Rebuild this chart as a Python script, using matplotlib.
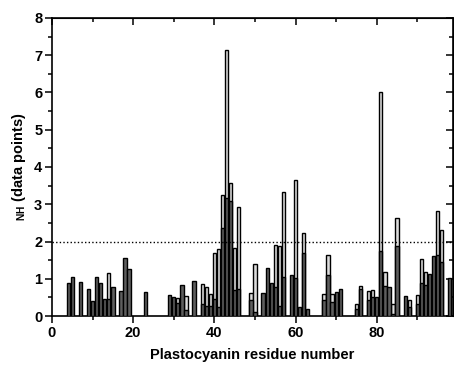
import matplotlib
matplotlib.use("Agg")
import matplotlib.pyplot as plt
from matplotlib.ticker import MultipleLocator

plt.rcParams["font.family"] = ["Liberation Sans", "DejaVu Sans"]
plt.rcParams["mathtext.fontset"] = "custom"
plt.rcParams["mathtext.bf"] = "Liberation Sans:bold"
plt.rcParams["mathtext.rm"] = "Liberation Sans"

# residue numbers and the two overlapping series (back = light, front = dark)
residues = [4, 5, 7, 9, 10, 11, 12, 13, 14, 15, 17, 18, 19, 23, 29, 30, 31, 32, 33, 35,
            37, 38, 39, 40, 41, 42, 43, 44, 45, 46, 49, 50, 52, 53, 54, 55, 56, 57, 59, 60,
            61, 62, 63, 67, 68, 69, 70, 71, 75, 76, 78, 79, 80, 81, 82, 83, 84, 85, 87, 88,
            90, 91, 92, 93, 94, 95, 96, 98]
light = [0, 0, 0, 0, 0, 0, 0, 0, 1.15, 0, 0, 0, 0, 0, 0, 0, 0.48, 0, 0.55, 0,
         0.85, 0.77, 0.58, 1.70, 1.81, 3.24, 7.13, 3.56, 1.84, 2.93, 0.63, 1.39, 0, 0, 0, 1.90, 1.88, 3.33, 0, 3.65,
         0, 2.24, 0, 0.58, 1.65, 0.58, 0, 0, 0.33, 0.81, 0.67, 0.70, 0, 6.02, 1.17, 0, 0.32, 2.64, 0, 0.43,
         0.57, 1.54, 1.19, 0, 0, 2.82, 2.31, 0]
dark = [0.88, 1.04, 0.91, 0.72, 0.41, 1.04, 0.90, 0.46, 0.46, 0.79, 0.67, 1.55, 1.25, 0.65, 0.56, 0.52, 0.34, 0.83, 0.17, 0.94,
        0.33, 0.26, 0.26, 0.45, 0.25, 2.35, 3.16, 3.10, 0.71, 0.73, 0.43, 0.10, 0.61, 1.28, 0.88, 0.79, 0.28, 1.05, 1.10, 1.01,
        0.25, 1.68, 0.20, 0.43, 1.10, 0.38, 0.64, 0.72, 0.18, 0.72, 0.43, 0.52, 0.50, 1.74, 0.82, 0.79, 0.05, 1.88, 0.54, 0.25,
        0.32, 0.88, 0.83, 1.12, 1.62, 1.64, 1.44, 1.02]
threshold = 2.0

fig = plt.figure(figsize=(4.54, 3.65), dpi=100)
ax = fig.add_axes([0.1145, 0.134, 0.8835, 0.817])

ax.bar(residues, light, width=0.8, color="#dcdcdc", edgecolor="black", linewidth=1.0, zorder=2)
ax.bar(residues, dark, width=0.8, color="#5e5e5e", edgecolor="black", linewidth=1.0, zorder=3)
ax.axhline(threshold, color="black", linestyle=(0, (1, 1.6)), linewidth=1.0, zorder=4)

ax.set_xlim(0, 98.8)
ax.set_ylim(0, 8)
ax.xaxis.set_major_locator(MultipleLocator(20))
ax.xaxis.set_minor_locator(MultipleLocator(10))
ax.yaxis.set_major_locator(MultipleLocator(1))
ax.yaxis.set_minor_locator(MultipleLocator(0.5))
ax.tick_params(which="major", direction="out", length=5, width=1.1, labelsize=10.5, pad=2)
ax.tick_params(which="minor", direction="out", length=3, width=1.1)
for lab in ax.get_xticklabels() + ax.get_yticklabels():
    lab.set_fontweight("bold")
for sp in ax.spines.values():
    sp.set_linewidth(1.2)

# mirrored ticks on top and right, pointing inward
top = ax.secondary_xaxis("top")
top.xaxis.set_major_locator(MultipleLocator(20))
top.xaxis.set_minor_locator(MultipleLocator(10))
top.tick_params(which="major", direction="in", length=5, width=1.1, labeltop=False)
top.tick_params(which="minor", direction="in", length=3, width=1.1)
right = ax.secondary_yaxis("right")
right.yaxis.set_major_locator(MultipleLocator(1))
right.yaxis.set_minor_locator(MultipleLocator(0.5))
right.tick_params(which="major", direction="in", length=5, width=1.1, labelright=False)
right.tick_params(which="minor", direction="in", length=3, width=1.1)

ax.set_xlabel("Plastocyanin residue number", fontsize=10.5, fontweight="bold", labelpad=6)
ax.set_ylabel(r"$_{\mathbf{NH}}$ (data points)", fontsize=10.5, fontweight="bold", labelpad=4)

fig.savefig("out.png", dpi=100)
